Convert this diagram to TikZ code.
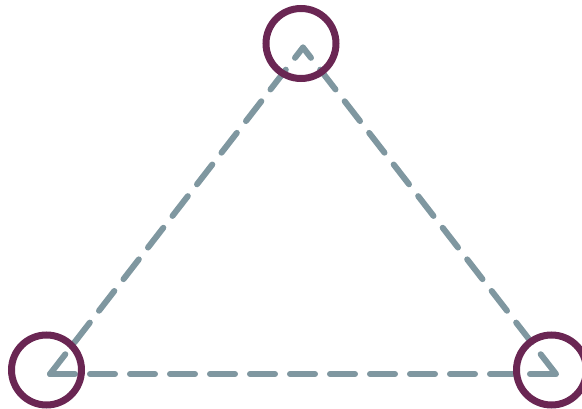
\documentclass[tikz,border=0pt]{standalone}
\definecolor{ringc}{RGB}{106,38,83}
\definecolor{edgec}{RGB}{127,151,160}
\begin{document}
\begin{tikzpicture}[x=1pt,y=-1pt,
  ring/.style={circle,draw=ringc,line width=7pt,minimum size=70pt,inner sep=0pt},
  edge/.style={draw=edgec,line width=6pt,line cap=round,dash pattern=on 25pt off 15pt}]
\useasboundingbox (0,0) rectangle (582,409);
\coordinate (A) at (303,47.5);
\coordinate (B) at (50,374);
\coordinate (C) at (556,374);
\draw[edge] (B) -- (A);
\draw[edge] (B) -- (C);
\draw[edge] (C) -- (A);
\node[ring] (ra) at (301,43.5) {};
\node[ring] (rb) at (46.5,370) {};
\node[ring] (rc) at (551.5,370) {};
\end{tikzpicture}
\end{document}
